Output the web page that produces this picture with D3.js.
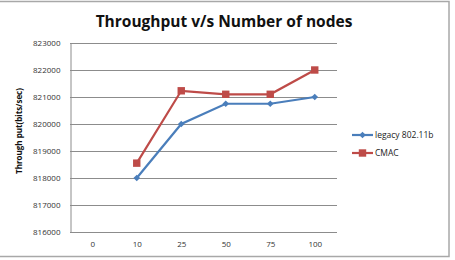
<!DOCTYPE html>
<html>
<head>
<meta charset="utf-8">
<script src="https://cdn.jsdelivr.net/npm/d3@7"></script>
<style>
body { margin: 0; background: #fff; }
text { font-family: "Open Sans", "Liberation Sans", sans-serif; }
</style>
</head>
<body>
<div id="chart_div"></div>
<script>
var categories = ['0', '10', '25', '50', '75', '100'];
var legacy = [null, 818000, 820000, 820750, 820750, 821000];
var cmac = [null, 818550, 821230, 821100, 821100, 822000];
var yTicks = [816000, 817000, 818000, 819000, 820000, 821000, 822000, 823000];
var seriesNames = ['legacy 802.11b', 'CMAC'];
var seriesColors = ['#4A7EBB', '#BE4B48'];

var width = 455, height = 260;
var plotLeft = 70, plotRight = 337, plotTop = 43, plotBottom = 232;

var svg = d3.select("#chart_div")
	.append("svg")
	.attr("width", width)
	.attr("height", height);

// outer chart frame (left edge falls off the picture)
svg.append("rect")
	.attr("x", -2).attr("y", 1.5)
	.attr("width", 451).attr("height", 255)
	.style("fill", "#fff")
	.style("stroke", "#a8a8a8")
	.style("stroke-width", 1.5);

svg.append("text")
	.attr("x", 224)
	.attr("y", 27)
	.attr("text-anchor", "middle")
	.style("font-size", "15.5px")
	.style("font-weight", "bold")
	.style("fill", "#111")
	.text("Throughput v/s Number of nodes");

var x = d3.scalePoint()
	.domain(categories)
	.range([plotLeft, plotRight])
	.padding(0.5);

var y = d3.scaleLinear()
	.domain([816000, 823000])
	.range([plotBottom, plotTop]);

// gridlines
svg.append("g")
	.selectAll("line")
	.data(yTicks)
	.enter()
	.append("line")
	.attr("x1", plotLeft).attr("x2", plotRight)
	.attr("y1", function(d) { return Math.round(y(d)) + 0.5; })
	.attr("y2", function(d) { return Math.round(y(d)) + 0.5; })
	.style("stroke", "#8c8c8c")
	.style("stroke-width", 1);

var yAxis = svg.append("g")
	.attr("transform", "translate(" + (plotLeft + 0.5) + ",0)")
	.call(d3.axisLeft(y).tickValues(yTicks).tickSize(0).tickPadding(10).tickFormat(d3.format("d")));
yAxis.select(".domain").style("stroke", "#8c8c8c");
yAxis.selectAll("text")
	.style("font-size", "8px")
	.style("fill", "#333");

var xAxis = svg.append("g")
	.attr("transform", "translate(0," + (Math.round(y(816000)) + 0.5) + ")")
	.call(d3.axisBottom(x).tickSize(0).tickPadding(9));
xAxis.select(".domain").remove();
xAxis.selectAll("text")
	.style("font-size", "8px")
	.style("fill", "#333");

svg.append("text")
	.attr("transform", "translate(22,131) rotate(-90)")
	.attr("text-anchor", "middle")
	.style("font-size", "8px")
	.style("font-weight", "bold")
	.style("fill", "#111")
	.text("Through put(bits/sec)");

var line = d3.line()
	.defined(function(d) { return d.v != null; })
	.x(function(d) { return x(d.c); })
	.y(function(d) { return y(d.v); });

// diamond = square turned 45 degrees, like Excel's marker
var series = [legacy, cmac].map(function(vals, i) {
	return {
		name: seriesNames[i],
		color: seriesColors[i],
		size: i == 0 ? 22 : 55,
		rot: i == 0 ? 45 : 0,
		points: vals.map(function(v, j) { return {c: categories[j], v: v}; })
	};
});

series.forEach(function(s) {
	svg.append("path")
		.datum(s.points)
		.attr("d", line)
		.style("fill", "none")
		.style("stroke", s.color)
		.style("stroke-width", 2.2);
	svg.append("g")
		.selectAll("path")
		.data(s.points.filter(function(d) { return d.v != null; }))
		.enter()
		.append("path")
		.attr("transform", function(d) { return "translate(" + x(d.c) + "," + y(d.v) + ") rotate(" + s.rot + ")"; })
		.attr("d", d3.symbol().type(d3.symbolSquare).size(s.size))
		.style("fill", s.color);
});

var legend = svg.selectAll('.legend')
	.data(series)
	.enter()
	.append('g')
	.attr('class', 'legend')
	.attr('transform', function(d, i) { return 'translate(352,' + (135 + i * 18) + ')'; });

legend.append('line')
	.attr('x1', 0).attr('x2', 21)
	.style('stroke', function(d) { return d.color; })
	.style('stroke-width', 2.2);

legend.append('path')
	.attr('transform', function(d) { return 'translate(10.5,0) rotate(' + d.rot + ')'; })
	.attr('d', function(d) { return d3.symbol().type(d3.symbolSquare).size(d.size)(); })
	.style('fill', function(d) { return d.color; });

legend.append('text')
	.attr('x', 23)
	.attr('y', 3)
	.style('font-size', '8.5px')
	.style('fill', '#222')
	.text(function(d) { return d.name; });
</script>
</body>
</html>
